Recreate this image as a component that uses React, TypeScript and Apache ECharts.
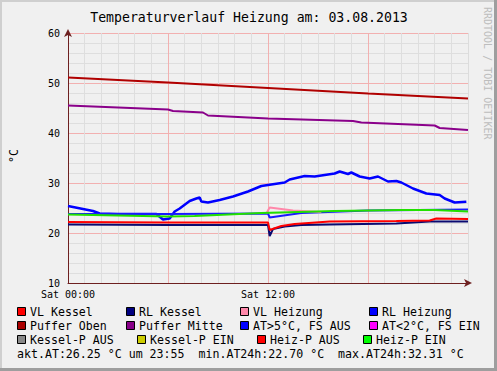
import React, { useEffect, useRef } from "react";
import * as echarts from "echarts";

const titleText = "Temperaturverlauf Heizung am: 03.08.2013";
const yUnit = "°C";
const watermark = "RRDTOOL / TOBI OETIKER";
const xTickLabels: Record<number, string> = { 0: "Sat 00:00", 12: "Sat 12:00" };

// time in hours since 00:00
const pufferObenT = [0, 6, 12, 18, 24];
const pufferObenV = [51.1, 50.1, 49.0, 47.9, 46.9];

const pufferMitteT = [0, 6, 6.3, 8.1, 8.4, 12, 17.1, 17.6, 22.0, 22.3, 24];
const pufferMitteV = [45.5, 44.7, 44.4, 44.1, 43.5, 42.9, 42.4, 42.1, 41.5, 41.0, 40.6];

const atT = [0, 1.5, 1.9, 3, 5.3, 5.7, 6.1, 6.4, 6.7, 7.3, 7.7, 7.9, 8.0, 8.4, 9.1, 9.9, 10.8, 11.6, 12.4, 13.0, 13.3, 14.2, 14.8, 15.4, 16.0, 16.3, 16.8, 17.0, 17.5, 18.1, 18.6, 19.2, 19.7, 20.0, 20.7, 21.5, 22.3, 22.6, 23.2, 23.9];
const atV = [25.4, 24.4, 23.9, 23.8, 23.8, 22.7, 22.9, 24.3, 24.9, 26.4, 26.9, 27.1, 26.3, 26.1, 26.6, 27.3, 28.3, 29.4, 29.8, 30.1, 30.7, 31.4, 31.3, 31.6, 31.9, 32.3, 31.8, 32.1, 31.3, 30.9, 31.3, 30.3, 30.4, 30.1, 28.9, 27.9, 27.6, 26.9, 26.1, 26.25];

const rlHeizungT = [0, 6, 12, 12.1, 14, 18, 24];
const rlHeizungV = [23.8, 23.8, 23.9, 23.1, 24.0, 24.5, 24.7];

const vlHeizungT = [11.9, 12.1, 13.5, 15.2];
const vlHeizungV = [23.9, 25.1, 24.5, 24.2];

const heizPEinT = [0, 3, 6, 7.6, 11.6, 16, 20, 22, 24];
const heizPEinV = [23.7, 23.5, 23.3, 23.4, 24.0, 24.4, 24.6, 24.6, 24.3];

const vlKesselT = [0, 6, 12, 12.1, 12.8, 13.6, 15.7, 19.7, 21.7, 22.1, 24];
const vlKesselV = [22.2, 22.1, 22.1, 20.6, 21.4, 21.8, 22.3, 22.4, 22.5, 22.9, 22.8];

const rlKesselT = [0, 6, 12, 12.1, 12.3, 13, 14, 15.7, 19.7, 21.7, 24];
const rlKesselV = [21.7, 21.6, 21.6, 19.4, 20.8, 21.3, 21.6, 21.7, 21.9, 22.3, 22.3];

const legendRows = [
  [["VL Kessel", "#ff0000"], ["RL Kessel", "#000080"], ["VL Heizung", "#ff88aa"], ["RL Heizung", "#0000ff"]],
  [["Puffer Oben", "#aa0000"], ["Puffer Mitte", "#880088"], ["AT>5°C, FS AUS", "#0000ff"], ["AT<2°C, FS EIN", "#ff00ff"]],
  [["Kessel-P AUS", "#888888"], ["Kessel-P EIN", "#cccc00"], ["Heiz-P AUS", "#ff0000"], ["Heiz-P EIN", "#00ff00"]],
];
const summaryText = "akt.AT:26.25 °C um 23:55  min.AT24h:22.70 °C  max.AT24h:32.31 °C";

const zip = (t: number[], v: number[]) => t.map((x, i) => [x, v[i]]);

const FONT = "DejaVu Sans Mono";

export default function App() {
  const ref = useRef<HTMLDivElement>(null);
  useEffect(() => {
    const chart = echarts.init(ref.current!, null, { renderer: "svg" });

    const legendX = [
      [17, 126, 240, 369],
      [17, 126, 240, 369],
      [17, 137, 257, 363],
    ];
    const legendY = [311.5, 325.5, 339.5];
    const legendGraphics: any[] = [];
    legendRows.forEach((row, r) => {
      row.forEach(([name, color], c) => {
        const bx = legendX[r][c];
        legendGraphics.push({
          type: "rect",
          shape: { x: bx + 0.5, y: legendY[r] - 4, width: 8, height: 8 },
          style: { fill: color, stroke: "#000", lineWidth: 1 },
          silent: true,
        });
        legendGraphics.push({
          type: "text",
          x: bx + 13,
          y: legendY[r],
          style: { text: name, font: `11.6px '${FONT}'`, fill: "#000", textVerticalAlign: "middle", textAlign: "left" },
          silent: true,
        });
      });
    });

    const line = (name: string, color: string, data: number[][], width = 2) => ({
      name,
      type: "line",
      data,
      showSymbol: false,
      symbol: "none",
      silent: true,
      lineStyle: { color, width },
      itemStyle: { color },
    });

    chart.setOption({
      animation: false,
      backgroundColor: "#f0f0f0",
      textStyle: { fontFamily: FONT },
      grid: { left: 68, top: 33, width: 400, height: 250, containLabel: false },
      xAxis: {
        type: "value",
        min: 0,
        max: 24,
        interval: 6,
        axisLine: {
          show: true,
          lineStyle: { color: "#6e2020", width: 1 },
          symbol: ["none", "arrow"],
          symbolSize: [6, 8],
          symbolOffset: [0, 4],
        },
        axisTick: { show: false },
        axisLabel: {
          margin: 6,
          fontFamily: FONT,
          fontSize: 10,
          color: "#000",
          showMinLabel: true,
          formatter: (v: number) => xTickLabels[v] ?? "",
        },
        splitLine: { show: true, lineStyle: { color: ["#f2b0b0", "#f2b0b0", "#f2b0b0", "#f2b0b0", "#dcdcdc"], width: 1 } },
        minorTick: { show: false, splitNumber: 6 },
        minorSplitLine: { show: true, lineStyle: { color: "#dedede", width: 1 } },
      },
      yAxis: {
        type: "value",
        min: 10,
        max: 60,
        interval: 10,
        axisLine: {
          show: true,
          lineStyle: { color: "#6e2020", width: 1 },
          symbol: ["none", "arrow"],
          symbolSize: [6, 8],
          symbolOffset: [0, 4],
        },
        axisTick: { show: false },
        axisLabel: { margin: 8, fontFamily: FONT, fontSize: 10, color: "#000" },
        splitLine: { show: true, lineStyle: { color: "#f2b0b0", width: 1 } },
        minorTick: { show: false, splitNumber: 5 },
        minorSplitLine: { show: true, lineStyle: { color: "#dedede", width: 1 } },
      },
      series: [
        line("Puffer Oben", "#b00000", zip(pufferObenT, pufferObenV)),
        line("Puffer Mitte", "#8a008a", zip(pufferMitteT, pufferMitteV)),
        line("AT>5°C, FS AUS", "#0000ff", zip(atT, atV), 2.5),
        line("RL Heizung", "#1a1aff", zip(rlHeizungT, rlHeizungV)),
        line("VL Heizung", "#ff88aa", zip(vlHeizungT, vlHeizungV)),
        line("Heiz-P EIN", "#22e000", zip(heizPEinT, heizPEinV)),
        line("RL Kessel", "#0a0a70", zip(rlKesselT, rlKesselV)),
        line("VL Kessel", "#ff0000", zip(vlKesselT, vlKesselV)),
      ],
      graphic: [
        { type: "rect", shape: { x: 0, y: 0, width: 497, height: 2 }, style: { fill: "#cfcfcf" }, silent: true },
        { type: "rect", shape: { x: 0, y: 0, width: 2, height: 371 }, style: { fill: "#cfcfcf" }, silent: true },
        { type: "rect", shape: { x: 494, y: 0, width: 3, height: 371 }, style: { fill: "#9e9e9e" }, silent: true },
        { type: "rect", shape: { x: 0, y: 368, width: 497, height: 3 }, style: { fill: "#9e9e9e" }, silent: true },
        {
          type: "text",
          x: 249,
          y: 17,
          style: { text: titleText, font: `13.2px '${FONT}'`, fill: "#000", textAlign: "center", textVerticalAlign: "middle" },
          silent: true,
        },
        {
          type: "text",
          x: 14,
          y: 156,
          rotation: Math.PI / 2,
          style: { text: yUnit, font: `11.6px '${FONT}'`, fill: "#000", textAlign: "center", textVerticalAlign: "middle" },
          silent: true,
        },
        {
          type: "text",
          x: 487,
          y: 7,
          rotation: -Math.PI / 2,
          style: { text: watermark, font: `10px '${FONT}'`, fill: "#bdbdbd", textAlign: "left", textVerticalAlign: "middle" },
          silent: true,
        },
        ...legendGraphics,
        {
          type: "text",
          x: 17,
          y: 353.5,
          style: { text: summaryText, font: `11.6px '${FONT}'`, fill: "#000", textAlign: "left", textVerticalAlign: "middle" },
          silent: true,
        },
      ],
    });
    return () => chart.dispose();
  }, []);
  return <div ref={ref} style={{ position: "fixed", left: 0, top: 0, width: 497, height: 371 }} />;
}
